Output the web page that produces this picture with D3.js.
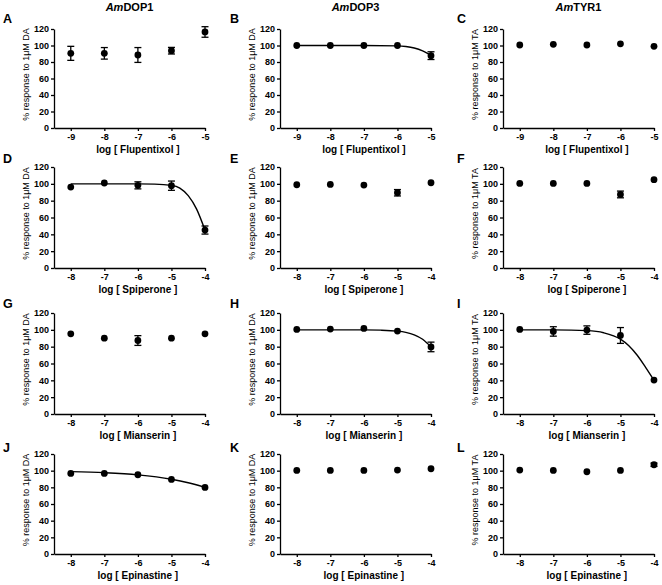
<!DOCTYPE html>
<html><head><meta charset="utf-8">
<script src="https://cdn.jsdelivr.net/npm/d3@7"></script>
<style>body{margin:0;background:#fff}svg{display:block}</style>
</head><body><svg id="c" width="662" height="585"></svg>
<script>
// ---------- data ----------
const receptors = ["DOP1", "DOP3", "TYR1"];
const titlePrefix = "Am";
const drugs = ["Flupentixol", "Spiperone", "Mianserin", "Epinastine"];
const yAxisLabels = ["% response to 1\u03bcM DA", "% response to 1\u03bcM DA", "% response to 1\u03bcM TA"];
const panelLetters = ["A","B","C","D","E","F","G","H","I","J","K","L"];
const xTicksFlupentixol = [-9, -8, -7, -6, -5];
const xTicksOther = [-8, -7, -6, -5, -4];
const yTicks = [0, 20, 40, 60, 80, 100, 120];

// means and error (SEM) per panel
const meanA = [90.5, 90.5, 88.5, 93.7, 116.4];  const errA = [8.5, 7, 9, 4, 6.4];
const meanB = [100, 100, 100, 100, 87.7];       const errB = [0, 0, 0, 0, 4.7];
const meanC = [100.6, 101.4, 100.6, 102, 99];   const errC = [0, 0, 0, 0, 0];
const meanD = [96.2, 101, 98.2, 97.8, 45.1];    const errD = [0, 0, 4.2, 5.5, 4.8];
const meanE = [98.9, 99.3, 98.5, 89.4, 101.3];  const errE = [0, 0, 0, 3.8, 0];
const meanF = [100.5, 100.5, 100.5, 87.4, 104.9]; const errF = [0, 0, 0, 4, 0];
const meanG = [95.3, 90.1, 87.3, 90.1, 95.3];   const errG = [0, 0, 5.8, 0, 0];
const meanH = [100.5, 100.9, 101.7, 98.5, 79.7]; const errH = [0, 0, 0, 0, 5.7];
const meanI = [100.5, 98.1, 99.7, 93.3, 40.3];  const errI = [0, 5.6, 5, 9.4, 0];
const meanJ = [96.7, 96.7, 95.1, 89.5, 79.9];   const errJ = [0, 0, 0, 0, 0];
const meanK = [100.3, 100.3, 100.3, 100.7, 102.3]; const errK = [0, 0, 0, 0, 0];
const meanL = [100.7, 100.3, 98.7, 100.3, 107.1]; const errL = [0, 0, 0, 0, 2];

// fitted curves (log conc, % response)
const curveBx = [-9, -8, -7, -6, -5.75, -5.5, -5.25, -5];
const curveBy = [100, 100, 100, 99.6, 98.8, 97, 93.5, 88];
const curveDx = [-8, -7, -6, -5.5, -5, -4.75, -4.5, -4.25, -4];
const curveDy = [100, 100, 99.9, 99.7, 98.2, 95, 86, 70, 45];
const curveHx = [-8, -7, -6, -5.5, -5, -4.75, -4.5, -4.25, -4];
const curveHy = [100, 100, 99.9, 99.6, 98.5, 97, 94.1, 88.8, 79.7];
const curveIx = [-8, -7, -6, -5.5, -5, -4.75, -4.5, -4.25, -4];
const curveIy = [100, 99.9, 99, 96.5, 88.9, 81.1, 69.8, 55.4, 40];
const curveJx = [-8, -7, -6, -5, -4.5, -4];
const curveJy = [98.9, 97.6, 95, 89.7, 85.5, 80];

// ---------- layout ----------
const colAxisX = [54, 280, 503];
const plotW = 151;
const rowY0 = [128, 268, 414, 554];
const rowY120 = [29, 167, 313, 454];
const letterBase = [23, 163, 308, 452];
const letterX = [3, 230, 457];
const FONT = "'Liberation Sans', Arial, Helvetica, sans-serif";

const means = [meanA, meanB, meanC, meanD, meanE, meanF, meanG, meanH, meanI, meanJ, meanK, meanL];
const errs = [errA, errB, errC, errD, errE, errF, errG, errH, errI, errJ, errK, errL];
const curves = {1: [curveBx, curveBy], 3: [curveDx, curveDy], 7: [curveHx, curveHy], 8: [curveIx, curveIy], 9: [curveJx, curveJy]};

const svg = d3.select("#c").style("font-family", FONT);

// titles
receptors.forEach((r, c) => {
  const t = svg.append("text")
    .attr("x", colAxisX[c] + plotW / 2).attr("y", 10.5)
    .attr("text-anchor", "middle").attr("font-size", 11).attr("font-weight", "bold");
  t.append("tspan").attr("font-style", "italic").text(titlePrefix);
  t.append("tspan").text(r);
});

drugs.forEach((drug, ri) => {
  const ticks = ri === 0 ? xTicksFlupentixol : xTicksOther;
  receptors.forEach((rec, ci) => {
    const idx = ri * 3 + ci;
    const x = d3.scaleLinear().domain([ticks[0] - 0.5, ticks[ticks.length - 1]])
      .range([colAxisX[ci], colAxisX[ci] + plotW]);
    const y = d3.scaleLinear().domain([0, 120]).range([rowY0[ri], rowY120[ri]]);
    const g = svg.append("g");

    // letter
    svg.append("text").attr("x", letterX[ci]).attr("y", letterBase[ri])
      .attr("font-size", 12.5).attr("font-weight", "bold").text(panelLetters[idx]);

    // axes
    const yAx = g.append("g").attr("transform", `translate(${colAxisX[ci]},0)`)
      .call(d3.axisLeft(y).tickValues(yTicks).tickSize(3).tickPadding(2).tickSizeOuter(0));
    const xAx = g.append("g").attr("transform", `translate(0,${rowY0[ri]})`)
      .call(d3.axisBottom(x).tickValues(ticks).tickSize(3).tickPadding(3).tickSizeOuter(0)
        .tickFormat(d => d3.format("d")(d).replace("\u2212", "-")));
    [yAx, xAx].forEach(a => {
      a.select(".domain").attr("stroke", "#000").attr("stroke-width", 1.3);
      a.selectAll(".tick line").attr("stroke", "#000").attr("stroke-width", 1.3);
      a.selectAll(".tick text").attr("font-size", 9).attr("font-weight", "bold")
        .attr("font-family", FONT).attr("fill", "#000");
    });

    // y label
    svg.append("text")
      .attr("transform", `translate(${colAxisX[ci] - 25},${(rowY0[ri] + rowY120[ri]) / 2 - 4}) rotate(-90)`)
      .attr("text-anchor", "middle").attr("font-size", 9).text(yAxisLabels[ci]);

    // x label
    svg.append("text").attr("x", x((ticks[0] + ticks[4]) / 2)).attr("y", rowY0[ri] + 25)
      .attr("text-anchor", "middle").attr("font-size", 10).attr("font-weight", "bold")
      .text(`log [ ${drug} ]`);

    // curve
    if (curves[idx]) {
      const [cx, cy] = curves[idx];
      const pts = cx.map((v, i) => [v, cy[i]]);
      g.append("path").datum(pts)
        .attr("d", d3.line().x(d => x(d[0])).y(d => y(d[1])).curve(d3.curveMonotoneX))
        .attr("fill", "none").attr("stroke", "#000").attr("stroke-width", 1.4);
    }

    // error bars
    const data = ticks.map((t, i) => ({x: t, m: means[idx][i], e: errs[idx][i]}));
    const eb = g.selectAll(".eb").data(data.filter(d => d.e > 0)).enter().append("g")
      .attr("stroke", "#000").attr("stroke-width", 1.3);
    eb.append("line").attr("x1", d => x(d.x)).attr("x2", d => x(d.x))
      .attr("y1", d => y(d.m - d.e)).attr("y2", d => y(d.m + d.e));
    [-1, 1].forEach(s => {
      eb.append("line").attr("x1", d => x(d.x) - 3.5).attr("x2", d => x(d.x) + 3.5)
        .attr("y1", d => y(d.m + s * d.e)).attr("y2", d => y(d.m + s * d.e));
    });

    // points
    g.selectAll(".pt").data(data).enter().append("circle")
      .attr("cx", d => x(d.x)).attr("cy", d => y(d.m)).attr("r", 3.4).attr("fill", "#000");
  });
});
</script></body></html>
